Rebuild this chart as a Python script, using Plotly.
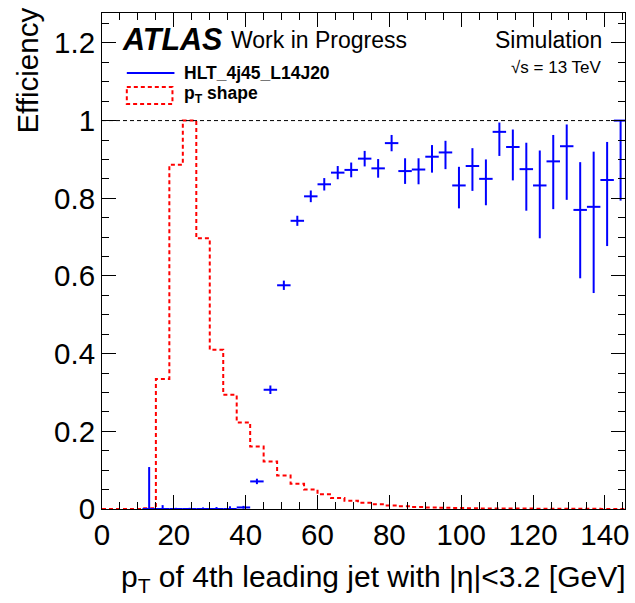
import plotly.graph_objects as go

# ---------------- data ----------------
# efficiency points (bin centres, GeV), bin half width
eff_x = [13.125, 16.875, 20.625, 24.375, 28.125, 31.875, 35.625, 39.375, 43.125, 46.875,
         50.625, 54.375, 58.125, 61.875, 65.625, 69.375, 73.125, 76.875, 80.625, 84.375,
         88.125, 91.875, 95.625, 99.375, 103.125, 106.875, 110.625, 114.375, 118.125, 121.875,
         125.625, 129.375, 133.125, 136.875, 140.625, 144.375]
eff_y = [0.0, 0.0, 0.0, 0.0, 0.0, 0.0, 0.0, 0.004, 0.071, 0.307,
         0.576, 0.742, 0.805, 0.836, 0.866, 0.873, 0.902, 0.877, 0.942, 0.870,
         0.874, 0.907, 0.918, 0.833, 0.883, 0.850, 0.971, 0.932, 0.875, 0.833,
         0.895, 0.934, 0.770, 0.778, 0.847, 1.0]
eff_err_up = [0.108, 0.010, 0.003, 0.003, 0.004, 0.005, 0.007, 0.004, 0.007, 0.011,
              0.012, 0.013, 0.015, 0.016, 0.017, 0.019, 0.020, 0.024, 0.021, 0.033,
              0.029, 0.030, 0.030, 0.048, 0.046, 0.050, 0.024, 0.045, 0.068, 0.090,
              0.068, 0.056, 0.123, 0.142, 0.098, 0.0]
eff_err_dn = [0.0, 0.0, 0.0, 0.0, 0.0, 0.0, 0.0, 0.003, 0.007, 0.011,
              0.012, 0.013, 0.015, 0.016, 0.017, 0.019, 0.020, 0.024, 0.021, 0.033,
              0.038, 0.041, 0.043, 0.059, 0.064, 0.068, 0.062, 0.086, 0.107, 0.136,
              0.123, 0.138, 0.176, 0.222, 0.170, 0.206]
bin_half_width = 1.875

# pT shape histogram (normalised to max), bin edges
shape_edges = [0, 3.75, 7.5, 11.25, 15, 18.75, 22.5, 26.25, 30, 33.75, 37.5, 41.25, 45,
               48.75, 52.5, 56.25, 60, 63.75, 67.5, 71.25, 75, 78.75, 82.5, 86.25, 90,
               93.75, 97.5, 101.25, 105, 108.75, 112.5, 116.25, 120, 123.75, 127.5,
               131.25, 135, 138.75, 142.5, 146.25]
shape_vals = [0, 0, 0, 0.002, 0.335, 0.886, 1.0, 0.697, 0.41, 0.294, 0.223, 0.161, 0.122,
              0.086, 0.065, 0.05, 0.038, 0.028, 0.021, 0.016, 0.012, 0.009, 0.007, 0.005,
              0.004, 0.003, 0.0025, 0.002, 0.0015, 0.0012, 0.001, 0.001, 0.0008, 0.0006,
              0.0005, 0.0004, 0.0004, 0.0003, 0.0003]

x_ticks = [0, 20, 40, 60, 80, 100, 120, 140]
y_ticks = [0, 0.2, 0.4, 0.6, 0.8, 1.0, 1.2]
y_tick_text = ["0", "0.2", "0.4", "0.6", "0.8", "1", "1.2"]

series_label = "HLT_4j45_L14J20"
shape_label = "p<sub>T</sub> shape"

# ---------------- figure ----------------
FONT = "Liberation Sans, Arial, Helvetica, sans-serif"
W, H = 635, 603
L, R, T, B = 102, 6, 13, 94
XMAX, YMAX = 145.6, 1.277

fig = go.Figure()

# histogram (step line)
hx = list(shape_edges)
hy = list(shape_vals) + [shape_vals[-1]]
fig.add_trace(go.Scatter(
    x=hx, y=hy, mode="lines", line=dict(color="#ff0000", width=2, dash="4px,3px", shape="hv"),
    showlegend=False, hoverinfo="skip"))

fig.add_trace(go.Scatter(
    x=eff_x, y=eff_y, mode="markers",
    marker=dict(size=1, color="#0000ff"),
    error_x=dict(type="constant", value=bin_half_width, color="#0000ff", thickness=2, width=0),
    error_y=dict(type="data", symmetric=False, array=eff_err_up, arrayminus=eff_err_dn,
                 color="#0000ff", thickness=2, width=0),
    showlegend=False))

axis_common = dict(showline=True, linecolor="black", linewidth=1, mirror="allticks",
                   ticks="inside", tickcolor="black", tickwidth=1, ticklen=14,
                   showgrid=False, zeroline=False,
                   tickfont=dict(family=FONT, size=29.5, color="black"))

fig.update_xaxes(range=[0, XMAX], tickvals=x_ticks,
                 minor=dict(ticks="inside", dtick=5, ticklen=7, tickcolor="black", tickwidth=1, showgrid=False),
                 **axis_common)
fig.update_yaxes(range=[0, YMAX], tickvals=y_ticks, ticktext=y_tick_text,
                 minor=dict(ticks="inside", dtick=0.05, ticklen=7, tickcolor="black", tickwidth=1, showgrid=False),
                 **axis_common)

# reference line at efficiency 1
fig.add_shape(type="line", xref="paper", yref="y", x0=0, x1=1, y0=1, y1=1,
              line=dict(color="black", width=1, dash="4px,3px"))

pw = W - L - R
ph = H - T - B


def px(xp):
    return (xp - L) / pw


def py(yp):
    return (H - B - yp) / ph


ann = []
ann.append(dict(text="Efficiency", x=px(27), y=py(6), xanchor="center", yanchor="top",
                textangle=-90, font=dict(family=FONT, size=29.5, color="black")))
ann.append(dict(text="p<sub>T</sub> of 4th leading jet with |η|<3.2 [GeV]", x=px(632), y=py(578),
                xanchor="right", yanchor="middle", font=dict(family=FONT, size=30, color="black")))
ann.append(dict(text="<b><i>ATLAS</i></b>", x=px(120), y=py(39), xanchor="left", yanchor="middle",
                font=dict(family=FONT, size=30.5, color="black")))
ann.append(dict(text="Work in Progress", x=px(230), y=py(40), xanchor="left", yanchor="middle",
                font=dict(family=FONT, size=23, color="black")))
ann.append(dict(text="Simulation", x=px(608), y=py(40), xanchor="right", yanchor="middle",
                font=dict(family=FONT, size=23, color="black")))
ann.append(dict(text="√s = 13 TeV", x=px(607), y=py(68), xanchor="right", yanchor="middle",
                font=dict(family=FONT, size=17, color="black")))
ann.append(dict(text="<b>" + series_label + "</b>", x=px(183), y=py(73), xanchor="left", yanchor="middle",
                font=dict(family=FONT, size=17.5, color="black")))
ann.append(dict(text="<b>" + shape_label + "</b>", x=px(183), y=py(95), xanchor="left", yanchor="middle",
                font=dict(family=FONT, size=17.5, color="black")))
for a in ann:
    a.update(xref="paper", yref="paper", showarrow=False)
fig.update_layout(annotations=ann)

# legend samples
fig.add_shape(type="line", xref="paper", yref="paper", x0=px(127), x1=px(175), y0=py(73), y1=py(73),
              line=dict(color="#0000ff", width=2))
fig.add_shape(type="rect", xref="paper", yref="paper", x0=px(127), x1=px(173), y0=py(87), y1=py(104),
              line=dict(color="#ff0000", width=2, dash="4px,3px"))

fig.update_layout(width=W, height=H, margin=dict(l=L, r=R, t=T, b=B, pad=0),
                  plot_bgcolor="white", paper_bgcolor="white",
                  font=dict(family=FONT, color="black"))

fig.write_html("out.html")
